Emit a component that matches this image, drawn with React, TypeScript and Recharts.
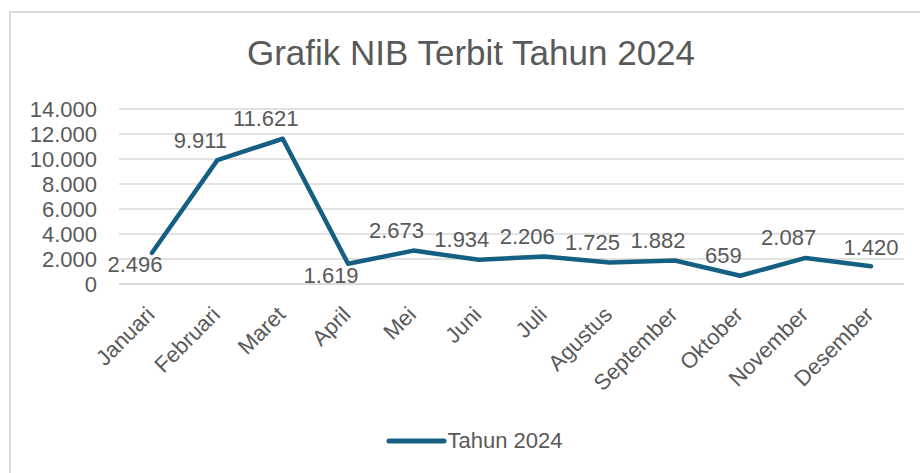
import { CartesianGrid, LabelList, Legend, Line, LineChart, XAxis, YAxis } from "recharts";

// Data
const MONTHS = [
  "Januari", "Februari", "Maret", "April", "Mei", "Juni",
  "Juli", "Agustus", "September", "Oktober", "November", "Desember",
];
const NIB_2024 = [2496, 9911, 11621, 1619, 2673, 1934, 2206, 1725, 1882, 659, 2087, 1420];
const Y_TICKS = [0, 2000, 4000, 6000, 8000, 10000, 12000, 14000];
const SERIES_NAME = "Tahun 2024";
const TITLE = "Grafik NIB Terbit Tahun 2024";

const chartData = MONTHS.map((month, i) => ({ month, value: NIB_2024[i] }));

// Styles
const FONT = '"Liberation Sans", Arial, sans-serif';
const FS = 22;
const TEXT = "#595959";
const GRID = "#d9d9d9";
const LINE = "#156082";

// label placement (dx, dy from point) – Excel moved a few of them around
const LABEL_OFFSETS: Record<number, [number, number]> = {
  0: [-17, 12],
  3: [-17, 12],
  11: [0, -19],
};
const DEFAULT_OFFSET: [number, number] = [-17, -20];

function formatId(v: number): string {
  return String(v).replace(/\B(?=(\d{3})+(?!\d))/g, ".");
}

function PointLabel(props: any) {
  const { x, y, value, index } = props;
  const [dx, dy] = LABEL_OFFSETS[index] ?? DEFAULT_OFFSET;
  return (
    <text
      x={x + dx}
      y={y + dy}
      textAnchor="middle"
      dominantBaseline="central"
      fontSize={FS}
      fontFamily={FONT}
      fill={TEXT}
    >
      {formatId(Number(value))}
    </text>
  );
}

function MonthTick(props: any) {
  const { x, y, payload } = props;
  const ax = x + 4;
  const ay = y + 24;
  return (
    <text
      x={ax}
      y={ay}
      transform={`rotate(-45, ${ax}, ${ay})`}
      textAnchor="end"
      fontSize={FS}
      fontFamily={FONT}
      fill={TEXT}
    >
      {payload.value}
    </text>
  );
}

function LegendContent() {
  return (
    <div style={{ display: "flex", alignItems: "center", justifyContent: "center", height: 30 }}>
      <svg width={62} height={10} style={{ marginRight: 0 }}>
        <line x1={3} y1={5} x2={58} y2={5} stroke={LINE} strokeWidth={5} strokeLinecap="round" />
      </svg>
      <span style={{ fontFamily: FONT, fontSize: FS, color: TEXT }}>{SERIES_NAME}</span>
    </div>
  );
}

export default function App() {
  return (
    <div style={{ position: "fixed", left: 0, top: 0, width: 920, height: 473, background: "#fff", overflow: "hidden" }}>
      <div
        style={{
          position: "absolute",
          left: 9,
          top: 11,
          width: 930,
          height: 480,
          borderLeft: `2px solid ${GRID}`,
          borderTop: `2px solid ${GRID}`,
        }}
      />
      <div
        style={{
          position: "absolute",
          left: 0,
          top: 35,
          width: 942,
          textAlign: "center",
          fontFamily: FONT,
          fontSize: 35,
          lineHeight: "35px",
          color: TEXT,
        }}
      >
        {TITLE}
      </div>
      <div style={{ position: "absolute", left: 0, top: 0 }}>
        <LineChart
          width={920}
          height={473}
          data={chartData}
          margin={{ top: 109, right: 16, left: 0, bottom: 0 }}
        >
          <CartesianGrid vertical={false} stroke={GRID} strokeWidth={1.5} />
          <XAxis
            dataKey="month"
            interval={0}
            padding={{ left: 33, right: 33 }}
            axisLine={{ stroke: GRID, strokeWidth: 1.5 }}
            tickLine={false}
            tick={<MonthTick />}
            height={189}
          />
          <YAxis
            domain={[0, 14000]}
            ticks={Y_TICKS}
            interval={0}
            width={119}
            axisLine={false}
            tickLine={false}
            tickSize={0}
            tickMargin={22}
            tickFormatter={formatId}
            tick={{ fontSize: FS, fontFamily: FONT, fill: TEXT }}
          />
          <Legend
            verticalAlign="middle"
            align="center"
            layout="horizontal"
            content={<LegendContent />}
            wrapperStyle={{ top: 426, left: 0, width: 948 }}
          />
          <Line
            type="linear"
            dataKey="value"
            name={SERIES_NAME}
            stroke={LINE}
            strokeWidth={4.5}
            strokeLinecap="round"
            strokeLinejoin="round"
            dot={false}
            activeDot={false}
            isAnimationActive={false}
          >
            <LabelList dataKey="value" content={<PointLabel />} />
          </Line>
        </LineChart>
      </div>
    </div>
  );
}
